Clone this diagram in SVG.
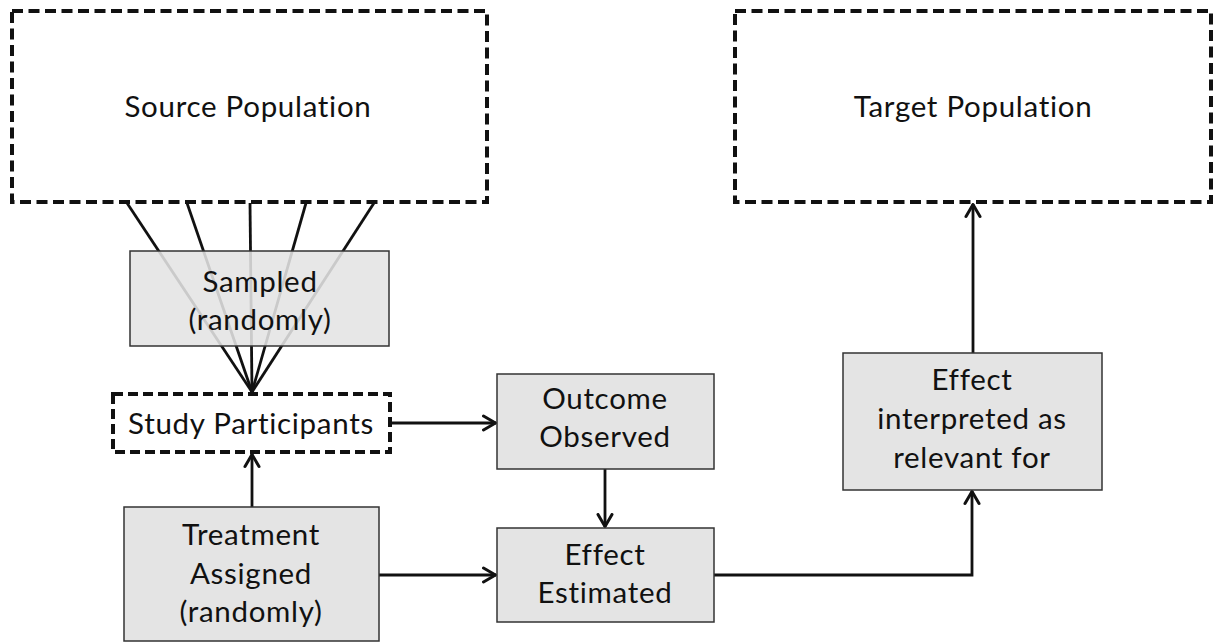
<svg xmlns="http://www.w3.org/2000/svg" width="1223" height="644" viewBox="0 0 1223 644">
<defs>
<style>
.dash{fill:none;stroke:#111;stroke-width:4;stroke-dasharray:11 5.5}
.dashw{fill:#fff;stroke:#111;stroke-width:4;stroke-dasharray:10 5}
.box{fill:#e4e4e4;stroke:#333;stroke-width:1.5}
.boxs{fill:#e4e4e4;fill-opacity:0.88;stroke:#333;stroke-width:1.5}
.t{font-family:Lato,"Liberation Sans",sans-serif;font-size:29.5px;letter-spacing:0.7px;fill:#111;text-anchor:middle}
.c{fill:none;stroke:#111;stroke-width:2.8}
</style>
<marker id="ah" viewBox="0 0 16 18" refX="14.5" refY="9" markerWidth="16" markerHeight="18" markerUnits="userSpaceOnUse" orient="auto">
<path d="M2,2 L14,9 L2,16" fill="none" stroke="#111" stroke-width="3" stroke-linecap="round" stroke-linejoin="round"/>
</marker>
</defs>
<rect width="1223" height="644" fill="#fff"/>
<g id="connectors">
<line class="c" x1="127" y1="203" x2="252" y2="392"/>
<line class="c" x1="187" y1="203" x2="252" y2="392"/>
<line class="c" x1="250" y1="203" x2="252" y2="392"/>
<line class="c" x1="306" y1="203" x2="252" y2="392"/>
<line class="c" x1="374" y1="203" x2="252" y2="392"/>
<line class="c" x1="392" y1="423" x2="496" y2="423" marker-end="url(#ah)"/>
<line class="c" x1="605" y1="469" x2="605" y2="527" marker-end="url(#ah)"/>
<line class="c" x1="252" y1="507" x2="252" y2="454" marker-end="url(#ah)"/>
<line class="c" x1="379" y1="575" x2="496" y2="575" marker-end="url(#ah)"/>
<polyline class="c" points="714,575 972,575 972,491" marker-end="url(#ah)"/>
<line class="c" x1="973" y1="353" x2="973" y2="204" marker-end="url(#ah)"/>
</g>
<g id="source">
<rect class="dash" x="12" y="11" width="475" height="191"/>
<text class="t" x="248" y="117">Source Population</text>
</g>
<g id="target">
<rect class="dash" x="735" y="11" width="476" height="191"/>
<text class="t" x="973" y="117">Target Population</text>
</g>
<g id="sampled">
<rect class="boxs" x="130" y="251" width="259" height="95"/>
<text class="t" x="260" y="292">Sampled</text>
<text class="t" x="260" y="330">(randomly)</text>
</g>
<g id="participants">
<rect class="dashw" x="113" y="394" width="277" height="58"/>
<text class="t" x="251" y="434">Study Participants</text>
</g>
<g id="outcome">
<rect class="box" x="497" y="374" width="217" height="95"/>
<text class="t" x="605" y="409">Outcome</text>
<text class="t" x="605" y="447">Observed</text>
</g>
<g id="treatment">
<rect class="box" x="124" y="507" width="255" height="134"/>
<text class="t" x="251" y="545">Treatment</text>
<text class="t" x="251" y="584">Assigned</text>
<text class="t" x="251" y="622">(randomly)</text>
</g>
<g id="estimated">
<rect class="box" x="497" y="528" width="217" height="94"/>
<text class="t" x="605" y="565">Effect</text>
<text class="t" x="605" y="603">Estimated</text>
</g>
<g id="interpreted">
<rect class="box" x="843" y="353" width="259" height="137"/>
<text class="t" x="972" y="390">Effect</text>
<text class="t" x="972" y="429">interpreted as</text>
<text class="t" x="972" y="468">relevant for</text>
</g>
</svg>
